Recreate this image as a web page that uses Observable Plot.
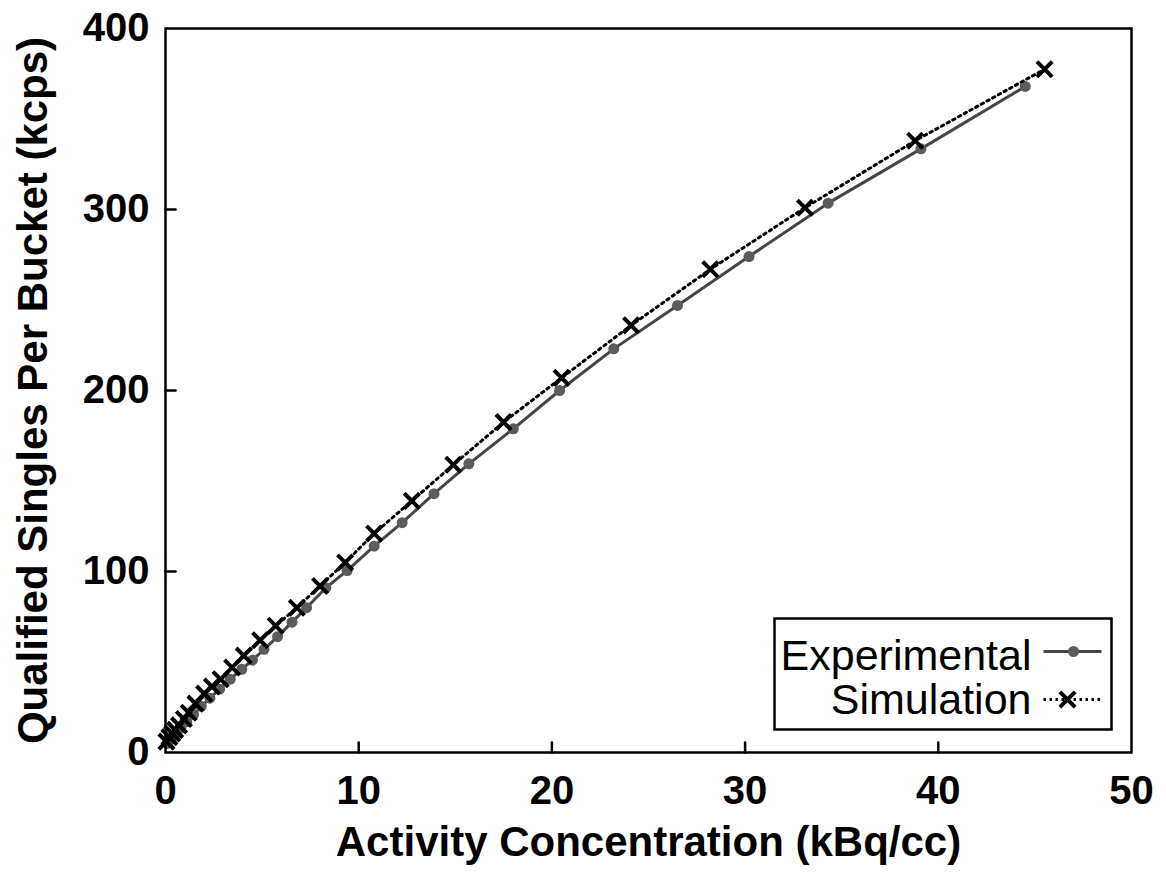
<!DOCTYPE html>
<html><head><meta charset="utf-8">
<script src="https://cdn.jsdelivr.net/npm/d3@7"></script>
<script src="https://cdn.jsdelivr.net/npm/@observablehq/plot@0.6"></script>
<style>
html,body{margin:0;padding:0;background:#fff;overflow:hidden}
#wrap{position:relative;width:1166px;height:873px}
#legend{position:absolute;left:773px;top:617px}
</style></head><body><div id="wrap"></div>
<script>
const xTicks = [0, 10, 20, 30, 40, 50];
const yTicks = [0, 100, 200, 300, 400];
const xLabel = "Activity Concentration (kBq/cc)";
const yLabel = "Qualified Singles Per Bucket (kcps)";
const seriesNames = ["Experimental", "Simulation"];

const expX = [0.1, 0.3, 0.55, 0.8, 1.1, 1.45, 1.85, 2.3, 2.8, 3.35, 3.95, 4.5, 5.1, 5.8, 6.55, 7.3, 8.3, 9.4, 10.8, 12.25, 13.9, 15.7, 18.0, 20.4, 23.2, 26.5, 30.2, 34.3, 39.1, 44.5];
const expY = [5, 7.5, 10.5, 13.5, 17, 21, 25.5, 30, 35, 40.5, 46, 51, 57, 64, 72, 80, 91, 100.5, 114, 127, 143, 159.5, 178.8, 200, 223, 247, 274, 303.5, 333.5, 368];

const simX = [0.05, 0.2, 0.35, 0.5, 0.7, 0.95, 1.2, 1.55, 2.0, 2.4, 2.85, 3.45, 4.05, 4.9, 5.7, 6.8, 8.0, 9.3, 10.8, 12.75, 14.9, 17.5, 20.5, 24.1, 28.2, 33.1, 38.8, 45.5];
const simY = [6, 8.5, 10.5, 12.5, 15, 18.5, 22, 27, 32.5, 36.5, 40.5, 47, 53.5, 62, 70, 80, 92, 105, 121, 139, 159, 182.5, 207, 236, 267, 301, 338, 377.5];

const FONT = '"Liberation Sans", Arial, Helvetica, sans-serif';
const EXP_LINE = "#454545", EXP_DOT = "#5c5c5c";
const SIM_DASH = "2.5,4";

const exp = expX.map((x, i) => ({x, y: expY[i]}));
const sim = simX.map((x, i) => ({x, y: simY[i]}));

const tickShape = {draw(ctx, l) { ctx.moveTo(0, 0); ctx.lineTo(0, -l); }};

const chart = Plot.plot({
  width: 1166, height: 873,
  marginLeft: 165, marginRight: 35, marginTop: 28, marginBottom: 121,
  style: {fontFamily: FONT, background: "white", color: "black", overflow: "visible"},
  x: {domain: [0, 50]},
  y: {domain: [0, 400]},
  marks: [
    Plot.axisX(xTicks, {tickSize: 0, tickPadding: 23, fontSize: 40, fontWeight: "bold", label: null, fill: "black"}),
    Plot.axisY(yTicks, {tickSize: 0, tickPadding: 16, fontSize: 40, fontWeight: "bold", label: null, fill: "black"}),
    Plot.vector(xTicks.slice(1, -1), {x: d => d, y: 0, length: 10, rotate: 0, anchor: "start", shape: tickShape, stroke: "black", strokeWidth: 2.5}),
    Plot.vector(yTicks.slice(1, -1), {x: 0, y: d => d, length: 10, rotate: 90, anchor: "start", shape: tickShape, stroke: "black", strokeWidth: 2.5}),
    Plot.line(exp, {x: "x", y: "y", stroke: EXP_LINE, strokeWidth: 3}),
    Plot.dot(exp, {x: "x", y: "y", r: 5.5, fill: EXP_DOT, stroke: "none"}),
    Plot.line(sim, {x: "x", y: "y", stroke: "black", strokeWidth: 3, strokeDasharray: SIM_DASH}),
    Plot.dot(sim, {x: "x", y: "y", r: 7, symbol: "times", stroke: "black", strokeWidth: 4}),
    Plot.frame({stroke: "black", strokeWidth: 2.5}),
    Plot.text([xLabel], {text: d => d, frameAnchor: "bottom", dy: 90, lineAnchor: "middle", textAnchor: "middle", fontSize: 42, fontWeight: "bold", fill: "black"}),
    Plot.text([yLabel], {text: d => d, frameAnchor: "left", dx: -132, rotate: -90, lineAnchor: "middle", textAnchor: "middle", fontSize: 42, fontWeight: "bold", fill: "black"})
  ]
});
const wrap = document.getElementById("wrap");
wrap.appendChild(chart);

// Legend box
const W = 337, H = 111;
const lg = d3.select(wrap).append("svg").attr("id", "legend").attr("width", W + 4).attr("height", H + 4)
  .style("font-family", FONT);
const g = lg.append("g").attr("transform", "translate(1.5,1.5)");
g.append("rect").attr("width", W).attr("height", H).attr("fill", "white").attr("stroke", "black").attr("stroke-width", 2.5);
const rows = [{name: seriesNames[0], base: 51}, {name: seriesNames[1], base: 95}];
rows.forEach(r => {
  g.append("text").attr("x", 257).attr("y", r.base).attr("text-anchor", "end")
    .attr("font-size", 43).attr("fill", "black").text(r.name);
});
g.append("line").attr("x1", 269).attr("x2", 327).attr("y1", 33).attr("y2", 33).attr("stroke", EXP_LINE).attr("stroke-width", 3);
g.append("circle").attr("cx", 299).attr("cy", 33).attr("r", 5.5).attr("fill", EXP_DOT);
g.append("line").attr("x1", 269).attr("x2", 327).attr("y1", 81).attr("y2", 81).attr("stroke", "black").attr("stroke-width", 3).attr("stroke-dasharray", "2.5,3.5");
g.append("path").attr("d", d3.symbol(d3.symbolTimes, Math.PI * 7 * 7)()).attr("transform", "translate(293,81)")
  .attr("stroke", "black").attr("stroke-width", 4).attr("fill", "none");
</script></body></html>
